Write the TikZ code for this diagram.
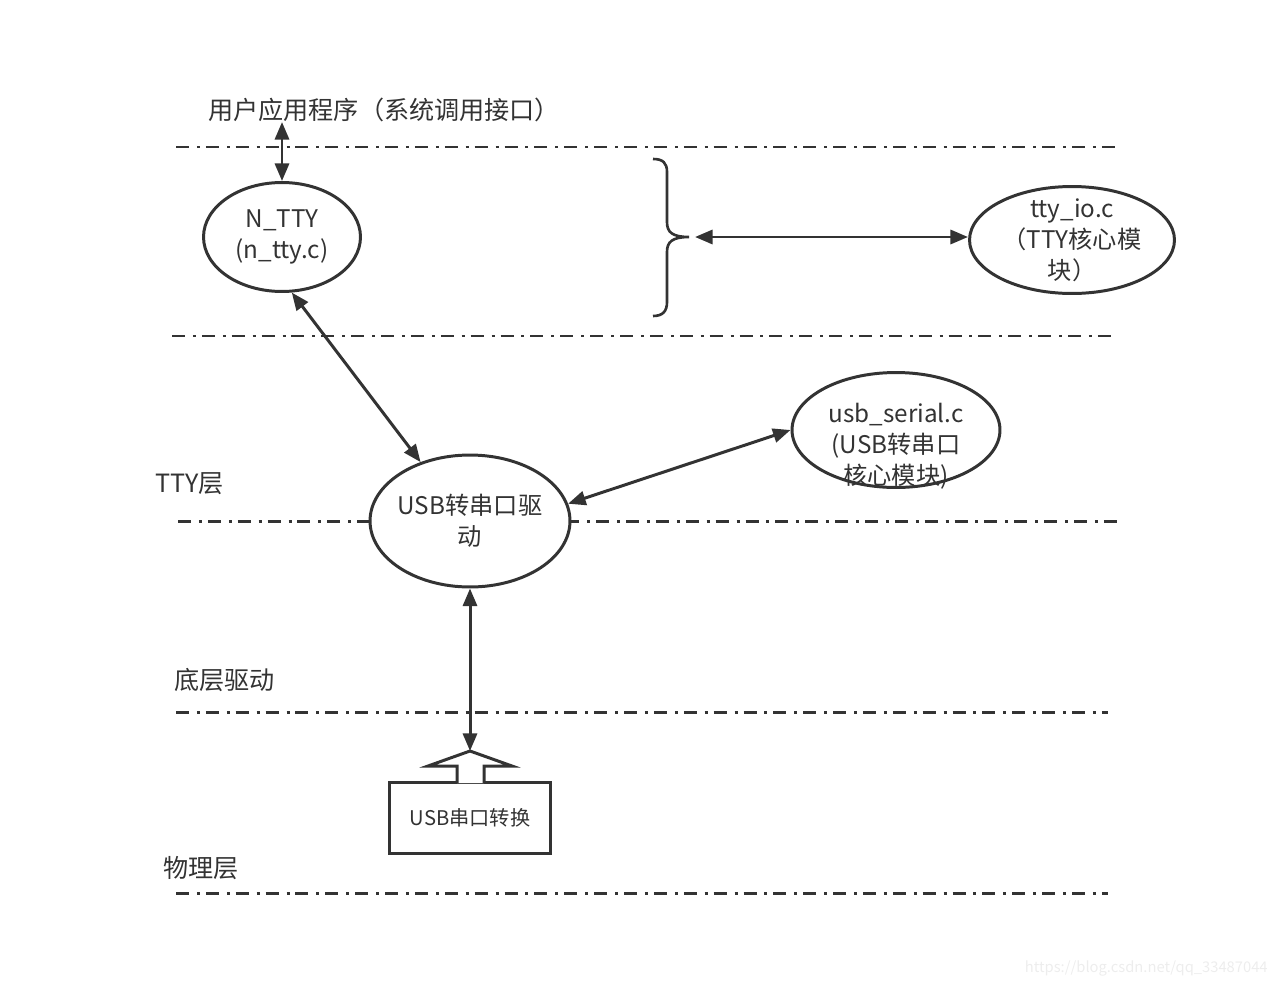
\documentclass[tikz,border=0pt]{standalone}
\usepackage{fontspec}
\setmainfont{Noto Sans CJK SC}
\usetikzlibrary{shapes.geometric,arrows.meta}
\definecolor{ink}{HTML}{333333}
\begin{document}
\begin{tikzpicture}[x=0.02cm,y=-0.02cm,
  layer/.style={ink, line width=1.7pt, dash pattern=on 7.4pt off 4.5pt on 1.7pt off 3.4pt},
  modtxt/.style={text=ink, align=center, inner sep=0pt, font=\fontsize{13.8}{17.6}\selectfont},
  mod/.style={ellipse, draw=ink, line width=1.7pt, fill=white, inner sep=0pt},
  lbl/.style={anchor=west, text=ink, inner sep=0pt, font=\fontsize{14.3}{17}\selectfont},
  link/.style={ink, line width=1.7pt, {Triangle[length=10pt,width=8pt]}-{Triangle[length=10pt,width=8pt]}}]
\useasboundingbox (0,0) rectangle (1277,987);
\draw[layer] (176,147) -- (1117,147);
\draw[layer] (172,336) -- (1113,336);
\draw[layer] (178,521) -- (1120,521);
\draw[layer] (176,712) -- (1108,712);
\draw[layer] (176,893) -- (1108,893);
\node[lbl] (app) at (208,110) {用户应用程序（系统调用接口）};
\node[lbl] (ttylayer) at (155,484) {TTY层};
\node[lbl] (lowlayer) at (174,680) {底层驱动};
\node[lbl] (phylayer) at (163,868) {物理层};
\node[mod, minimum width=3.14cm, minimum height=2.18cm, label={[modtxt]center:{N\_TTY\\(n\_tty.c)}}] (ntty) at (282,237) {};
\node[mod, minimum width=4.1cm, minimum height=2.14cm, label={[modtxt]center:{tty\_io.c\\（TTY核心模\\块）}}] (ttyio) at (1072,240) {};
\node[mod, minimum width=4cm, minimum height=2.64cm, label={[modtxt]center:{USB转串口驱\\动}}] (drv) at (470,521) {};
\node[mod, minimum width=4.16cm, minimum height=2.3cm, label={[modtxt, yshift=-0.32cm]center:{usb\_serial.c\\(USB转串口\\核心模块)}}] (serial) at (896,430) {};
\node[draw=ink, line width=1.7pt, fill=white, text=ink, minimum width=3.24cm, minimum height=1.42cm, font=\fontsize{11.5}{14}\selectfont] (conv) at (470,818) {USB串口转换};
\draw[ink, line width=1.7pt, fill=white] (457,783) -- (457,766) -- (428,766) -- (470,751) -- (512,766) -- (484,766) -- (484,783);
\draw[ink, line width=1.5pt] (653,159) .. controls (663,159) and (667,163) .. (667,172) -- (667,222) .. controls (667,232) and (672,237) .. (689,237) .. controls (672,237) and (667,242) .. (667,252) -- (667,302) .. controls (667,311) and (663,316) .. (653,316);
\coordinate (apptop) at (282,122);
\coordinate (bracetip) at (695,237);
\coordinate (uptip) at (470,751);
\draw[link] (apptop) -- (ntty);
\draw[link] (bracetip) -- (bracetip -| ttyio.west);
\draw[link] (ntty.-80) -- (drv.130);
\draw[link] (serial.west) -- (drv.10);
\draw[link] (drv) -- (uptip);
\node[anchor=east, text=black!7, inner sep=0pt, font=\fontsize{8.4}{10}\selectfont] (mark) at (1268,968) {https://blog.csdn.net/qq\_33487044};
\end{tikzpicture}
\end{document}
